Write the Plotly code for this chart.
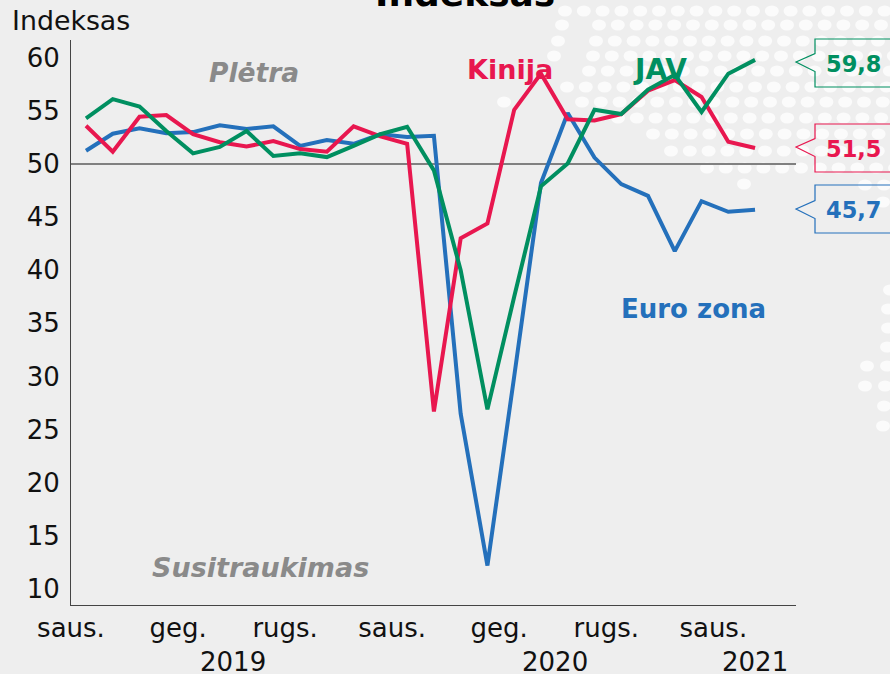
import plotly.graph_objects as go

months = list(range(26))
euro_zona = [51.25, 52.85, 53.35, 52.9, 53.0, 53.65, 53.3, 53.55, 51.7, 52.25, 51.9, 52.8, 52.55,
             52.65, 26.5, 12.2, 30.0, 48.2, 54.8, 50.6, 48.1, 47.0, 41.8, 46.5, 45.5, 45.7]
kinija = [53.6, 51.15, 54.45, 54.6, 52.8, 52.05, 51.65, 52.15, 51.4, 51.15, 53.55, 52.6, 51.9,
          26.7, 43.0, 44.4, 55.1, 58.5, 54.2, 54.1, 54.7, 56.9, 57.9, 56.3, 52.1, 51.5]
jav = [54.3, 56.1, 55.4, 53.1, 51.0, 51.6, 53.1, 50.75, 51.0, 50.65, 51.7, 52.8, 53.5,
       49.4, 40.0, 26.9, 37.5, 47.9, 50.05, 55.1, 54.7, 57.0, 58.4, 54.9, 58.5, 59.8]

month_ticks = [-0.56, 3.44, 7.44, 11.44, 15.44, 19.44, 23.44]
month_labels = ["saus.", "geg.", "rugs.", "saus.", "geg.", "rugs.", "saus."]
y_ticks = [10, 15, 20, 25, 30, 35, 40, 45, 50, 55, 60]

BLUE, RED, GREEN = "#2470bb", "#e8174f", "#008f60"
GREY = "#8a8a8a"
FONT = "DejaVu Sans"
L, R, T, B = 71, 796, 40, 605
W, H = 890, 674


def px(x):
    return (x - L) / (R - L)


def py(y):
    return (B - y) / (B - T)


# decorative dotted world-map backdrop: (row y, first x, last x)
dot_rows = [(11, 565, 890), (25, 599, 890), (41, 596, 890), (56, 593, 890), (71, 589, 890),
            (87, 567, 890), (102, 582, 890), (118, 618, 890), (134, 653, 890), (151, 671, 890),
            (168, 707, 890)]
single_dots = [(562, 25), (558, 41), (554, 56), (504, 102), (744, 184), (865, 185), (884, 185),
               (883, 202), (890, 290), (888, 309), (888, 328), (887, 347), (867, 366), (887, 366),
               (865, 386), (885, 386), (884, 406), (883, 426)]
dots = list(single_dots)
for ry, x0, x1 in dot_rows:
    x = x0
    while x < x1 + 6:
        dots.append((x, ry))
        x += 18.8

shapes = []
for dx, dy in dots:
    shapes.append(dict(type="circle", xref="paper", yref="paper", layer="below",
                       x0=px(dx - 7), x1=px(dx + 7), y0=py(dy + 5.5), y1=py(dy - 5.5),
                       fillcolor="#fbfbfb", line_width=0))

shapes.append(dict(type="line", xref="paper", yref="y", x0=0, x1=1, y0=50, y1=50,
                   line=dict(color="#808080", width=2), layer="below"))

callouts = [(GREEN, 39, 87, 62, "59,8"), (RED, 124, 172, 147, "51,5"), (BLUE, 185, 233, 209, "45,7")]
annotations = []
for c, top, bot, tip, txt in callouts:
    pts = [(895, top), (815, top), (815, tip - 8.5), (796, tip), (815, tip + 9.5), (815, bot), (895, bot)]
    path = "M " + " L ".join(f"{px(a):.5f},{py(b):.5f}" for a, b in pts)
    shapes.append(dict(type="path", xref="paper", yref="paper", path=path,
                       line=dict(color=c, width=1.2), fillcolor="rgba(0,0,0,0)"))
    annotations.append(dict(text=f"<b>{txt}</b>", xref="paper", yref="paper", x=px(853.5), y=py((top + bot) / 2 + 0.5),
                            showarrow=False, xanchor="center", yanchor="middle",
                            font=dict(family=FONT, size=22.5, color=c)))


def note(text, x, y, color, size=26, anchor="center"):
    annotations.append(dict(text=text, xref="paper", yref="paper", x=px(x), y=py(y), showarrow=False,
                            xanchor=anchor, yanchor="middle", font=dict(family=FONT, size=size, color=color)))


note("<b>Kinija</b>", 510, 69, RED, 27)
note("<b>JAV</b>", 659.5, 69, GREEN, 28)
note("<b>Euro zona</b>", 693.5, 309, BLUE, 26)
note("<b><i>Plėtra</i></b>", 253.5, 72, GREY, 26.5)
note("<b><i>Susitraukimas</i></b>", 260, 567, GREY, 27)
note("Indeksas", 10, 21, "#111111", 26.8, "left")
note("2019", 233, 662, "#111111", 26)
note("2020", 555, 662, "#111111", 26)
note("2021", 754.5, 662, "#111111", 26)
note("<b>Indeksas</b>", 464.5, -6, "#000000", 36)

fig = go.Figure()
for name, vals, col in (("Euro zona", euro_zona, BLUE), ("Kinija", kinija, RED), ("JAV", jav, GREEN)):
    fig.add_trace(go.Scatter(x=months, y=vals, mode="lines", name=name,
                             line=dict(color=col, width=4), cliponaxis=False))

fig.update_layout(
    width=W, height=H, autosize=False,
    margin=dict(l=L, r=W - R, t=T, b=H - B, pad=0),
    paper_bgcolor="#eeeeee", plot_bgcolor="rgba(0,0,0,0)",
    showlegend=False, shapes=shapes, annotations=annotations,
    font=dict(family=FONT, size=26, color="#111111"),
    xaxis=dict(range=[-0.5605, 26.53], tickvals=month_ticks, ticktext=month_labels, showgrid=False,
               zeroline=False, showline=True, linecolor="#444444", linewidth=1,
               ticks="outside", ticklen=0, tickcolor="rgba(0,0,0,0)", tickangle=0,
               tickfont=dict(family=FONT, size=26, color="#111111")),
    yaxis=dict(range=[8.49, 61.67], tickvals=y_ticks, showgrid=False, zeroline=False,
               showline=True, linecolor="#444444", linewidth=1,
               ticks="outside", ticklen=5, tickcolor="rgba(0,0,0,0)",
               tickfont=dict(family=FONT, size=26, color="#111111")),
)
fig.write_html("out.html", config=dict(displayModeBar=False),
               post_script="document.documentElement.style.overflow='hidden';document.body.style.margin='0';")
